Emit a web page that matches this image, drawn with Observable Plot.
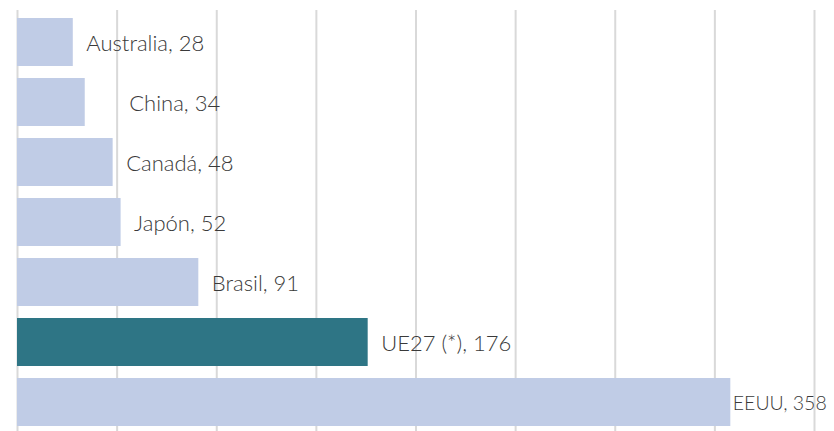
<!DOCTYPE html>
<html>
<head>
<meta charset="utf-8">
<script src="https://cdn.jsdelivr.net/npm/d3@7"></script>
<script src="https://cdn.jsdelivr.net/npm/@observablehq/plot@0.6"></script>
<style>
  body { margin: 0; background: #fff; }
  #chart svg { display: block; }
</style>
</head>
<body>
<div id="chart"></div>
<script>
const countries = ["Australia", "China", "Canadá", "Japón", "Brasil", "UE27 (*)", "EEUU"];
const values = [28, 34, 48, 52, 91, 176, 358];
const highlight = "UE27 (*)";
const gridTicks = [0, 50, 100, 150, 200, 250, 300, 350, 400];

const data = countries.map((c, i) => ({country: c, value: values[i]}));
const labelDx = c => c === "China" ? 44 : c === "EEUU" ? 2 : 13;

const marks = [
  Plot.ruleX(gridTicks, {stroke: "#d9d9d9", strokeWidth: 2}),
  Plot.barX(data, {
    x: "value", y: "country",
    fill: d => d.country === highlight ? "#2e7585" : "#c0cce6"
  })
];
for (const g of [2, 13, 44]) {
  marks.push(Plot.text(data.filter(d => labelDx(d.country) === g), {
    x: "value", y: "country",
    text: d => `${d.country}, ${d.value}`,
    textAnchor: "start", dx: g, dy: 1,
    fill: "#3a3a3a", fontSize: g === 2 ? 19.5 : 22, fontWeight: 300
  }));
}

const chart = Plot.plot({
  width: 834, height: 431,
  marginTop: 10, marginBottom: 0, marginLeft: 17, marginRight: 20,
  style: {fontFamily: "Lato, sans-serif", background: "#fff"},
  x: {domain: [0, 400], axis: null},
  y: {domain: countries, range: [17, 427], paddingInner: 0.2, paddingOuter: 0, axis: null},
  marks
});
document.getElementById("chart").append(chart);
</script>
</body>
</html>
